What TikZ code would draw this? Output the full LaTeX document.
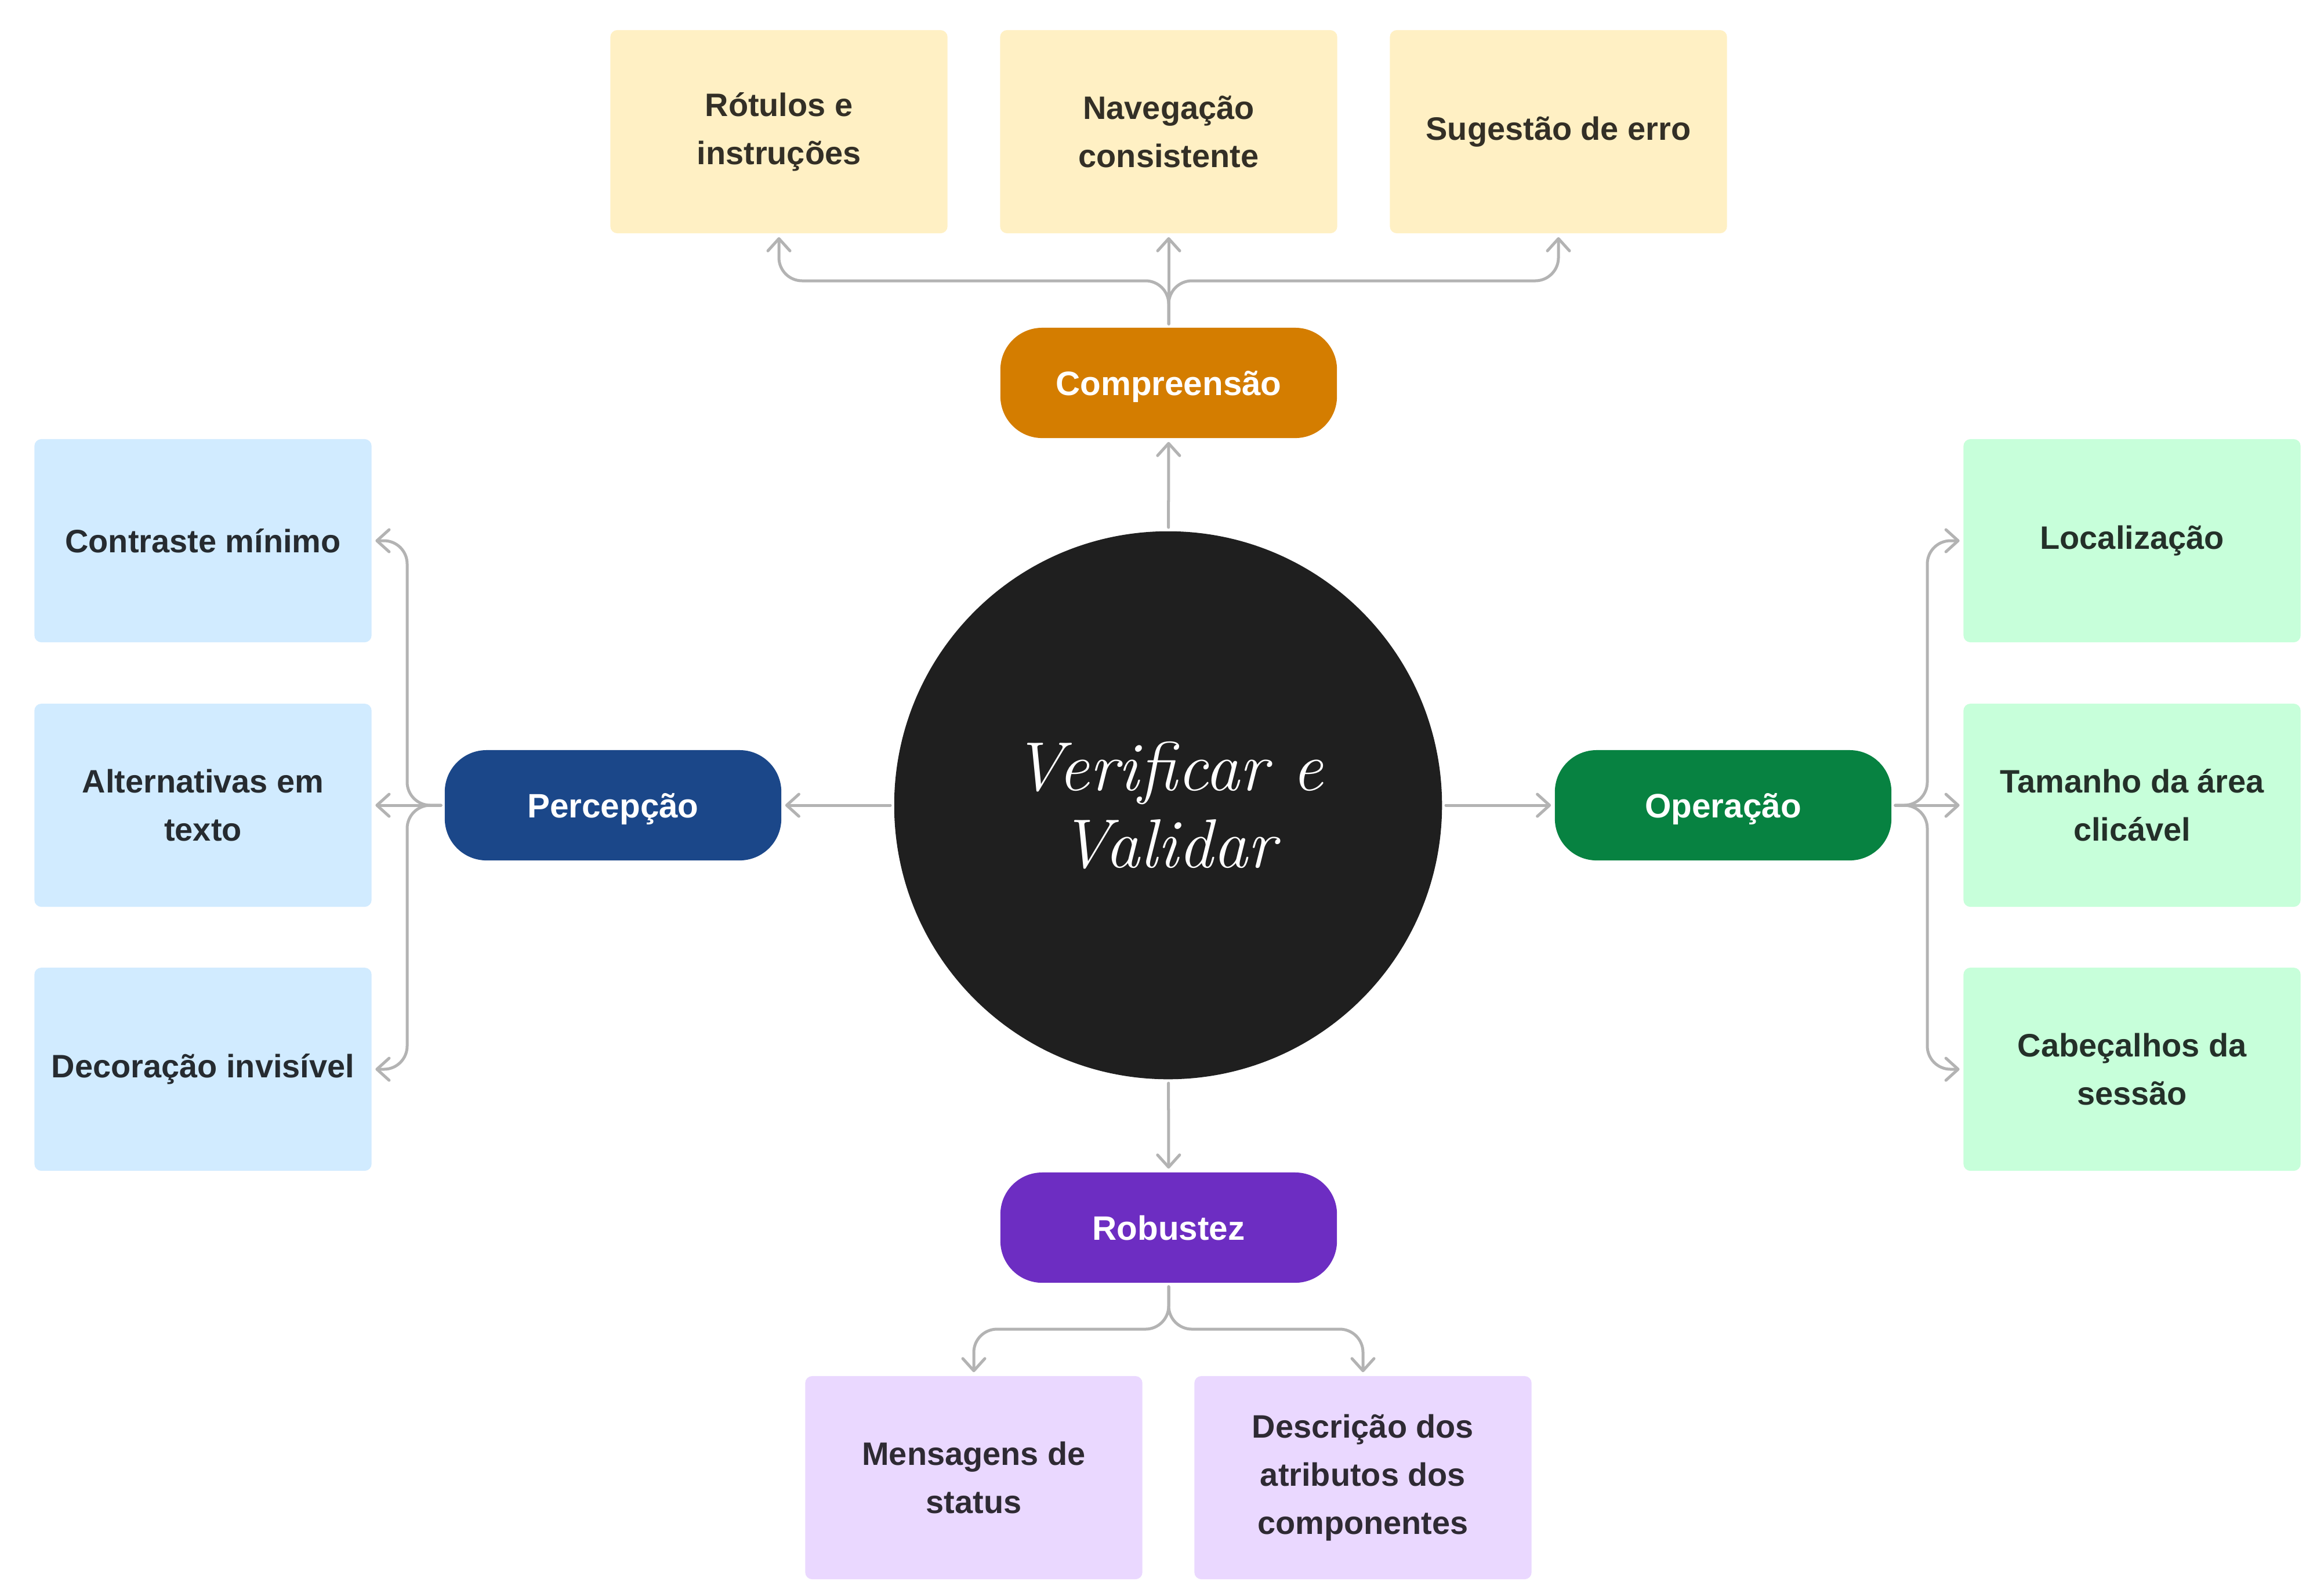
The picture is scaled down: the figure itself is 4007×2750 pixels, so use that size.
\documentclass[tikz,border=0pt]{standalone}
\usepackage{fontspec}
\newfontfamily\labelfont{Liberation Sans}
\usetikzlibrary{arrows.meta}
\definecolor{ybg}{HTML}{FFF0C4}\definecolor{ytx}{HTML}{332F26}
\definecolor{bbg}{HTML}{D1EBFF}\definecolor{btx}{HTML}{262B30}
\definecolor{gbg}{HTML}{C7FFDA}\definecolor{gtx}{HTML}{243029}
\definecolor{pbg}{HTML}{EAD8FF}\definecolor{ptx}{HTML}{2E2A33}
\definecolor{orangec}{HTML}{D47D00}
\definecolor{navyc}{HTML}{1B4789}
\definecolor{greenc}{HTML}{078241}
\definecolor{purplec}{HTML}{6D2DC2}
\definecolor{circc}{HTML}{1F1F1F}
\definecolor{connc}{HTML}{B3B3B3}
\tikzset{
  leaf/.style={rectangle, rounded corners=0.12cm, minimum width=5.81cm, minimum height=3.5cm,
    inner sep=0pt, align=center, font=\labelfont\bfseries\fontsize{15.9}{23.6}\selectfont},
  pill/.style={rectangle, rounded corners=0.72cm, minimum width=5.8cm, minimum height=1.9cm,
    inner sep=0pt, align=center, text=white, text height=0.42cm, text depth=0cm,
    font=\labelfont\bfseries\fontsize{16.6}{20}\selectfont},
  conn/.style={draw=connc, line width=0.05cm, line cap=round, line join=round,
    -{Straight Barb[length=0.21cm,width=0.38cm,round]}, shorten >=0.06cm, shorten <=0.06cm},
  branch/.style={conn, rounded corners=0.4cm}
}
\begin{document}
\begin{tikzpicture}[x=0.01cm,y=-0.01cm]
\fill[white] (0,0) rectangle (4007,2750);
\useasboundingbox (0,0) rectangle (4007,2750);

% centre
\node[circle, fill=circc, minimum size=9.44cm, inner sep=0pt, text=white, align=center,
  font=\itshape\fontsize{34}{37.8}\selectfont] (c) at (2014,1388) {Verificar e\\Validar};

% pills
\node[pill, fill=orangec] (comp) at (2015,660) {Compreensão};
\node[pill, fill=navyc] (perc) at (1057,1388) {Percepção};
\node[pill, fill=greenc] (oper) at (2971,1388) {Operação};
\node[pill, fill=purplec] (rob) at (2015,2116) {Robustez};

% top leaves
\node[leaf, fill=ybg, text=ytx] (t1) at (1343,227) {Rótulos e\\instruções};
\node[leaf, fill=ybg, text=ytx] (t2) at (2015,227) {Navegação\\consistente};
\node[leaf, fill=ybg, text=ytx] (t3) at (2687,227) {Sugestão de erro};

% left leaves
\node[leaf, fill=bbg, text=btx] (l1) at (350,932) {Contraste mínimo};
\node[leaf, fill=bbg, text=btx] (l2) at (350,1388) {Alternativas em\\texto};
\node[leaf, fill=bbg, text=btx] (l3) at (350,1843) {Decoração invisível};

% right leaves
\node[leaf, fill=gbg, text=gtx] (r1) at (3676,932) {Localização};
\node[leaf, fill=gbg, text=gtx] (r2) at (3676,1388) {Tamanho da área\\clicável};
\node[leaf, fill=gbg, text=gtx] (r3) at (3676,1843) {Cabeçalhos da\\sessão};

% bottom leaves
\node[leaf, fill=pbg, text=ptx] (b1) at (1679,2547) {Mensagens de\\status};
\node[leaf, fill=pbg, text=ptx] (b2) at (2350,2547) {Descrição dos\\atributos dos\\componentes};

% centre to pills
\draw[conn] (c) -- (comp);
\draw[conn] (c) -- (perc);
\draw[conn] (c) -- (oper);
\draw[conn] (c) -- (rob);

% top branches
\coordinate (ty) at (0,484);
\draw[branch] (comp.north) -- (comp.north |- ty) -- (t1.south |- ty) -- (t1.south);
\draw[branch] (comp.north) -- (comp.north |- ty) -- (t3.south |- ty) -- (t3.south);
\draw[conn] (comp) -- (t2);

% left branches
\coordinate (lx) at (702,0);
\draw[branch] (perc.west) -- (perc.west -| lx) -- (lx |- l1.east) -- (l1.east);
\draw[branch] (perc.west) -- (perc.west -| lx) -- (lx |- l3.east) -- (l3.east);
\draw[conn] (perc) -- (l2);

% right branches
\coordinate (rx) at (3323,0);
\draw[branch] (oper.east) -- (oper.east -| rx) -- (rx |- r1.west) -- (r1.west);
\draw[branch] (oper.east) -- (oper.east -| rx) -- (rx |- r3.west) -- (r3.west);
\draw[conn] (oper) -- (r2);

% bottom branches
\coordinate (by) at (0,2291);
\draw[branch] (rob.south) -- (rob.south |- by) -- (b1.north |- by) -- (b1.north);
\draw[branch] (rob.south) -- (rob.south |- by) -- (b2.north |- by) -- (b2.north);
\end{tikzpicture}
\end{document}
